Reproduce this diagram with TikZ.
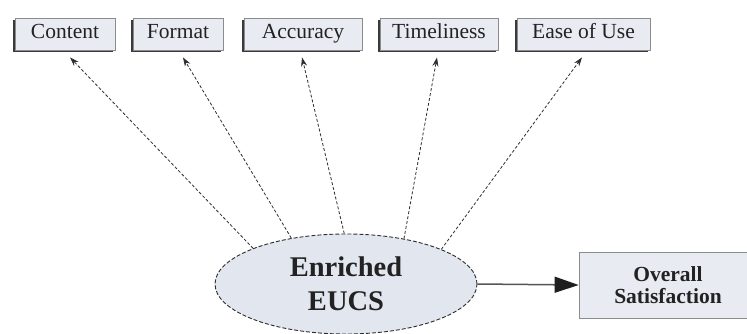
\documentclass[tikz,border=0pt]{standalone}
\usepackage{fontspec}
\setmainfont{Liberation Serif}
\newfontfamily\labelfont{Liberation Serif}
\usetikzlibrary{arrows.meta,shapes.geometric,shadows}
\definecolor{boxfill}{HTML}{E8EBF2}
\definecolor{boxedge}{HTML}{8C8C8C}
\definecolor{shadowc}{HTML}{3A3A3A}
\definecolor{ellfill}{HTML}{E2E6EE}
\definecolor{ink}{HTML}{222222}
\definecolor{linkc}{HTML}{2E2E2E}
\definecolor{mainc}{HTML}{555555}
\definecolor{tipc}{HTML}{1E1E1E}
\begin{document}
\begin{tikzpicture}[x=1pt,y=-1pt,
  measure/.style={draw=boxedge, fill=boxfill, line width=0.8pt,
    minimum height=32pt, inner sep=0pt, text=ink,
    text height=14.5pt, text depth=5pt,
    font=\labelfont\fontsize{21.5}{22}\selectfont,
    drop shadow={shadow xshift=-2pt, shadow yshift=-2pt, fill=shadowc, opacity=1}},
  construct/.style={ellipse, draw=linkc, fill=ellfill, line width=0.9pt,
    dash pattern=on 4pt off 2pt, minimum width=262pt, minimum height=100pt,
    inner sep=0pt, align=center, text=ink,
    font=\labelfont\bfseries\fontsize{28.5}{34}\selectfont},
  outcome/.style={draw=boxedge, fill=boxfill, line width=0.8pt,
    minimum width=178pt, minimum height=66pt, inner sep=0pt, align=center,
    text=ink, font=\labelfont\bfseries\fontsize{21.5}{22}\selectfont},
  link/.style={draw=linkc, line width=0.8pt, dash pattern=on 3pt off 2pt,
    -{Stealth[length=9pt,width=6pt]}},
  mainlink/.style={draw=mainc, line width=1.5pt,
    -{Triangle[length=24pt,width=16pt,color=tipc]}}]
\useasboundingbox[fill=white] (0,0) rectangle (747,334);

% the five measured dimensions
\node[measure, minimum width=100pt] (content)  at (65,34)   {Content};
\node[measure, minimum width=90pt]  (format)   at (178,34)  {Format};
\node[measure, minimum width=118pt] (accuracy) at (303,34)  {Accuracy};
\node[measure, minimum width=118pt] (timeli)   at (439,34)  {Timeliness};
\node[measure, minimum width=133pt] (ease)     at (583.5,34){Ease of Use};

% the latent construct and its outcome
\node[construct] (eucs) at (346,284) {Enriched\\EUCS};
\node[outcome] (overall) at (668,285) {Overall\\Satisfaction};

% loadings of the construct on its dimensions
\draw[link] (eucs.159) -- ([xshift=5pt,yshift=-7pt]content.south);
\draw[link] (eucs.140) -- ([xshift=5pt,yshift=-7pt]format.south);
\draw[link] (eucs.92)  -- ([xshift=-1pt,yshift=-7pt]accuracy.south);
\draw[link] (eucs.38)  -- ([xshift=-2pt,yshift=-7pt]timeli.south);
\draw[link] (eucs.20)  -- ([xshift=-1.5pt,yshift=-7pt]ease.south);

% effect on overall satisfaction
\draw[mainlink] (eucs.east) -- (overall.west);
\end{tikzpicture}
\end{document}
